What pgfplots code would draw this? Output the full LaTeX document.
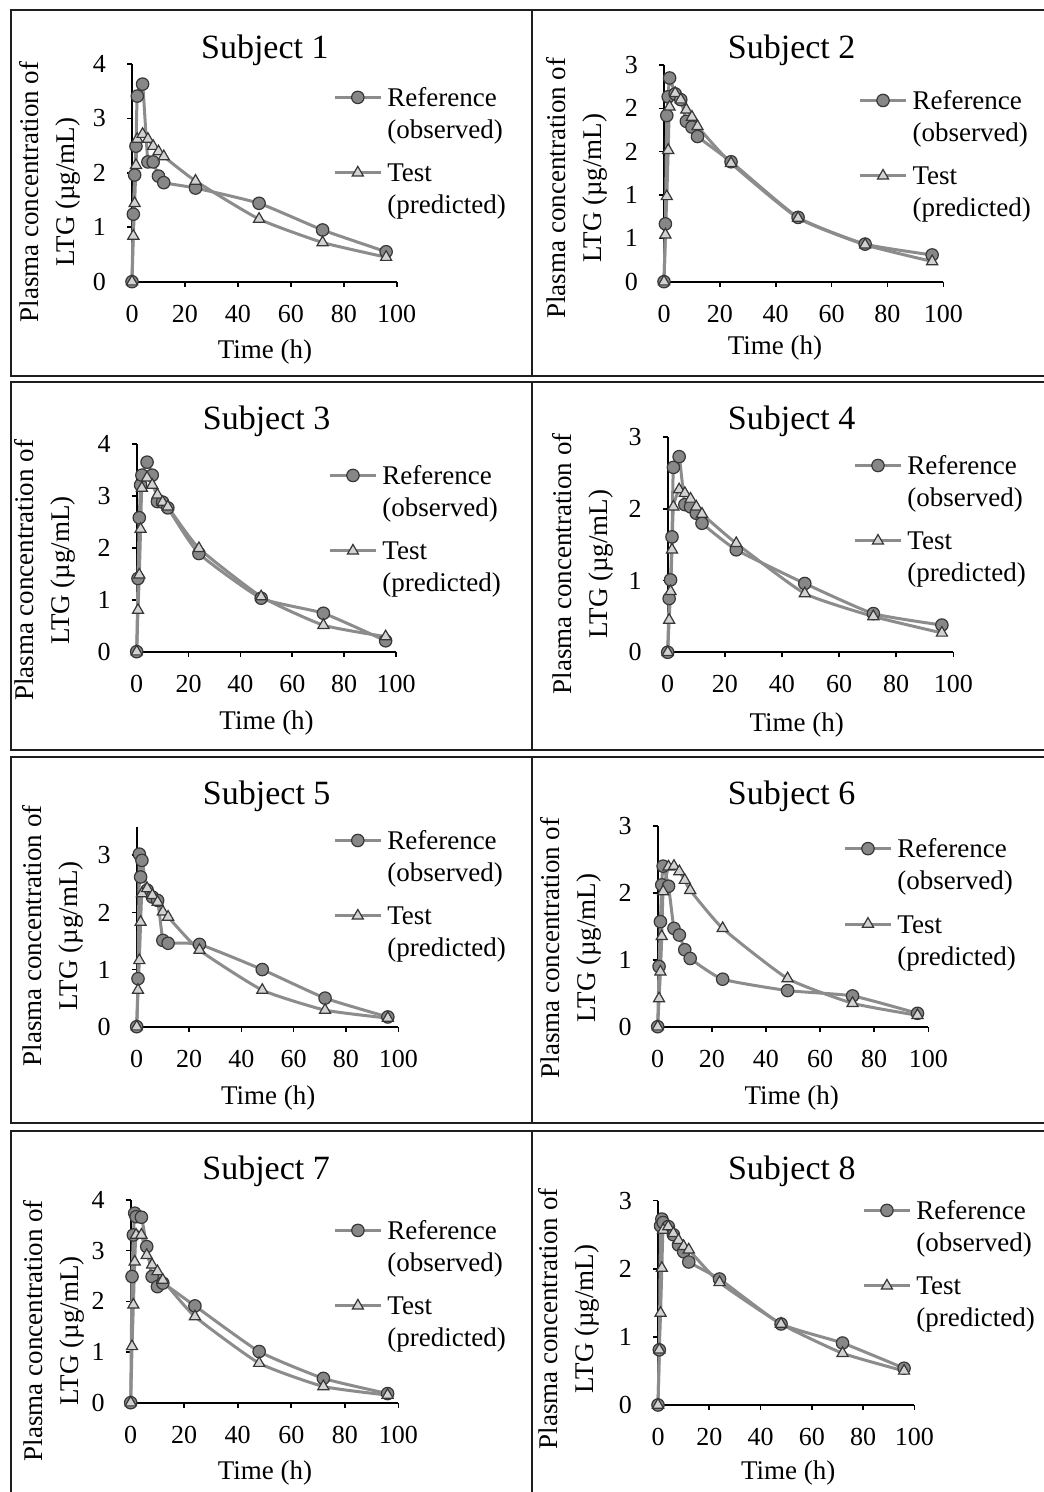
\documentclass[border=0pt]{standalone}
\usepackage{fontspec}
\setmainfont{Liberation Serif}
\usepackage{pgfplots}
\pgfplotsset{compat=1.18}

\definecolor{lineg}{RGB}{140,140,140}
\definecolor{markg}{RGB}{135,135,135}
\definecolor{markd}{RGB}{55,55,55}
\definecolor{trif}{RGB}{210,210,210}
\definecolor{frame}{RGB}{30,30,30}

\pgfplotsset{
  every axis title shift=0pt,
  pk/.style={
    scale only axis, anchor=south west,
    xmin=0, xmax=100, ymin=0,
    axis x line=bottom, axis y line=left,
    axis line style={-, line width=1pt, black},
    tick style={black, line width=0.8pt},
    tick align=outside, major tick length=2.5pt,
    xtick={0,20,...,100},
    clip=false,
    tick label style={font=\fontsize{13}{15}\selectfont},
    /pgf/number format/assume math mode=true,
    xticklabel style={yshift=-5.5pt},
    yticklabel style={xshift=-7pt},
    xlabel={Time (h)},
    ylabel={Plasma concentration of\\LTG (µg/mL)},
    xlabel style={font=\fontsize{13.5}{16}\selectfont, anchor=center},
    ylabel style={font=\fontsize{13.5}{18}\selectfont, align=center, anchor=center},
    title style={font=\fontsize{17}{20}\selectfont, anchor=center},
    legend style={draw=none, fill=none, inner sep=0pt, anchor=north west,
      font=\fontsize{13.5}{16}\selectfont, row sep=25pt, column sep=2.5pt,
      nodes={inner sep=0pt}, cells={anchor=base west}},
    legend image code/.code={\draw[mark repeat=2,mark phase=2,#1] plot coordinates {(0pt,4.5pt)(11.5pt,4.5pt)(23pt,4.5pt)};},
  },
  ref/.style={line width=1.5pt, color=lineg, smooth, tension=0.3, mark=*, mark size=3.1pt,
    mark options={fill=markg, draw=markd, line width=0.6pt}},
  tst/.style={line width=1.5pt, color=lineg, smooth, tension=0.3, mark=triangle*, mark size=3.2pt,
    mark options={fill=trif, draw=markd, line width=0.6pt}},
}
\newcommand{\refentry}{\addlegendentry{\begin{tabular}[t]{@{}l@{}}Reference\\(observed)\end{tabular}}}
\newcommand{\tstentry}{\addlegendentry{\begin{tabular}[t]{@{}l@{}}Test\\(predicted)\end{tabular}}}

\begin{document}
\begin{tikzpicture}
\useasboundingbox (0pt,0pt) rectangle (521.5pt,746pt);
% panel frames
\begin{scope}[line width=1pt, draw=frame]
\draw (5.25pt,741pt) rectangle (530pt,558pt);
\draw (265.75pt,741pt) -- (265.75pt,558pt);
\draw (5.25pt,555pt) rectangle (530pt,371pt);
\draw (265.75pt,555pt) -- (265.75pt,371pt);
\draw (5.25pt,367.5pt) rectangle (530pt,184.5pt);
\draw (265.75pt,367.5pt) -- (265.75pt,184.5pt);
\draw (5.25pt,180.5pt) rectangle (530pt,-4pt);
\draw (265.75pt,180.5pt) -- (265.75pt,-4pt);
\end{scope}

% Subject 1
\begin{axis}[pk, at={(66pt,605.15pt)}, width=132.35pt, height=108.85pt,
  ymax=4, ytick={0,1,2,3,4},
  title={Subject 1}, title style={at={(axis description cs:0.502,1.064)}},
  xlabel style={at={(axis description cs:0.502,-0.322)}},
  ylabel style={at={(axis description cs:-0.310,0.412)}},
  legend style={at={(axis description cs:0.759,0.910)}}]
\addplot[ref] coordinates {(0,0)(0.5,1.24)(1,1.96)(1.5,2.49)(2,3.41)(4,3.63)(6,2.2)(8,2.2)(10,1.94)(12,1.82)(24,1.72)(48,1.44)(72,0.95)(96,0.55)};
\refentry
\addplot[tst] coordinates {(0,0)(0.5,0.84)(1,1.44)(1.5,2.14)(2,2.62)(4,2.71)(6,2.62)(8,2.49)(10,2.39)(12,2.30)(24,1.85)(48,1.15)(72,0.72)(96,0.45)};
\tstentry
\end{axis}

% Subject 2
\begin{axis}[pk, at={(332pt,605.15pt)}, width=139.65pt, height=108.35pt,
  ymax=3, ytick={0,0.6,1.2,1.8,2.4,3}, yticklabels={0,1,1,2,2,3},
  title={Subject 2}, title style={at={(axis description cs:0.457,1.069)}},
  xlabel style={at={(axis description cs:0.397,-0.307)}},
  ylabel style={at={(axis description cs:-0.313,0.432)}},
  legend style={at={(axis description cs:0.695,0.900)}}]
\addplot[ref] coordinates {(0,0)(0.5,0.80)(1,2.30)(1.5,2.56)(2,2.82)(4,2.60)(6,2.52)(8,2.22)(10,2.14)(12,2.01)(24,1.66)(48,0.89)(72,0.52)(96,0.37)};
\refentry
\addplot[tst] coordinates {(0,0)(0.5,0.65)(1,1.18)(1.5,1.82)(2,2.42)(4,2.61)(6,2.52)(8,2.38)(10,2.28)(12,2.15)(24,1.64)(48,0.88)(72,0.51)(96,0.28)};
\tstentry
\end{axis}

% Subject 3
\begin{axis}[pk, at={(68.35pt,420.15pt)}, width=129.65pt, height=103.85pt,
  ymax=4, ytick={0,1,2,3,4},
  title={Subject 3}, title style={at={(axis description cs:0.501,1.107)}},
  xlabel style={at={(axis description cs:0.501,-0.345)}},
  ylabel style={at={(axis description cs:-0.354,0.391)}},
  legend style={at={(axis description cs:0.738,0.915)}}]
\addplot[ref] coordinates {(0,0)(0.5,1.41)(1,2.58)(1.5,3.21)(2,3.40)(4,3.65)(6,3.40)(8,2.89)(10,2.88)(12,2.77)(24,1.89)(48,1.03)(72,0.74)(96,0.21)};
\refentry
\addplot[tst] coordinates {(0,0)(0.5,0.80)(1,1.48)(1.5,2.36)(2,3.15)(4,3.35)(6,3.21)(8,3.02)(10,2.88)(12,2.79)(24,1.99)(48,1.06)(72,0.51)(96,0.29)};
\tstentry
\end{axis}

% Subject 4
\begin{axis}[pk, at={(333.85pt,419.85pt)}, width=142.8pt, height=107.5pt,
  ymax=3, ytick={0,1,2,3},
  title={Subject 4}, title style={at={(axis description cs:0.434,1.073)}},
  xlabel style={at={(axis description cs:0.452,-0.338)}},
  ylabel style={at={(axis description cs:-0.296,0.411)}},
  legend style={at={(axis description cs:0.649,0.933)}}]
\addplot[ref] coordinates {(0,0)(0.5,0.75)(1,1.01)(1.5,1.61)(2,2.58)(4,2.73)(6,2.06)(8,2.03)(10,1.94)(12,1.80)(24,1.43)(48,0.96)(72,0.54)(96,0.38)};
\refentry
\addplot[tst] coordinates {(0,0)(0.5,0.45)(1,0.85)(1.5,1.43)(2,2.03)(4,2.27)(6,2.22)(8,2.14)(10,2.03)(12,1.93)(24,1.52)(48,0.82)(72,0.50)(96,0.27)};
\tstentry
\end{axis}

% Subject 5
\begin{axis}[pk, at={(68.35pt,232.65pt)}, width=130.8pt, height=100pt,
  ymax=3.5, ytick={0,1,2,3},
  title={Subject 5}, title style={at={(axis description cs:0.497,1.150)}},
  xlabel style={at={(axis description cs:0.503,-0.358)}},
  ylabel style={at={(axis description cs:-0.319,0.4545)}},
  legend style={at={(axis description cs:0.750,1.000)}}]
\addplot[ref] coordinates {(0,0)(0.5,0.84)(1,3.02)(1.5,2.62)(2,2.91)(4,2.39)(6,2.27)(8,2.21)(10,1.51)(12,1.46)(24,1.44)(48,1.00)(72,0.50)(96,0.17)};
\refentry
\addplot[tst] coordinates {(0,0)(0.5,0.64)(1,1.16)(1.5,1.83)(2,2.33)(4,2.42)(6,2.30)(8,2.18)(10,2.01)(12,1.92)(24,1.34)(48,0.64)(72,0.29)(96,0.15)};
\tstentry
\end{axis}

% Subject 6
\begin{axis}[pk, at={(328.85pt,232.65pt)}, width=135.3pt, height=100.35pt,
  ymax=3, ytick={0,1,2,3},
  title={Subject 6}, title style={at={(axis description cs:0.495,1.146)}},
  xlabel style={at={(axis description cs:0.495,-0.357)}},
  ylabel style={at={(axis description cs:-0.321,0.392)}},
  legend style={at={(axis description cs:0.685,0.956)}}]
\addplot[ref] coordinates {(0,0)(0.5,0.90)(1,1.57)(1.5,2.12)(2,2.40)(4,2.10)(6,1.47)(8,1.37)(10,1.15)(12,1.02)(24,0.71)(48,0.54)(72,0.46)(96,0.20)};
\refentry
\addplot[tst] coordinates {(0,0)(0.5,0.42)(1,0.82)(1.5,1.35)(2,2.02)(4,2.39)(6,2.40)(8,2.32)(10,2.19)(12,2.04)(24,1.47)(48,0.72)(72,0.35)(96,0.17)};
\tstentry
\end{axis}

% Subject 7
\begin{axis}[pk, at={(65.35pt,44.65pt)}, width=133.8pt, height=101.35pt,
  ymax=4, ytick={0,1,2,3,4},
  title={Subject 7}, title style={at={(axis description cs:0.506,1.140)}},
  xlabel style={at={(axis description cs:0.502,-0.348)}},
  ylabel style={at={(axis description cs:-0.286,0.355)}},
  legend style={at={(axis description cs:0.756,0.918)}}]
\addplot[ref] coordinates {(0,0)(0.5,2.49)(1,3.31)(1.5,3.74)(2,3.67)(4,3.66)(6,3.08)(8,2.49)(10,2.29)(12,2.36)(24,1.91)(48,1.01)(72,0.48)(96,0.18)};
\refentry
\addplot[tst] coordinates {(0,0)(0.5,1.11)(1,1.93)(1.5,2.78)(2,3.31)(4,3.31)(6,2.91)(8,2.72)(10,2.59)(12,2.42)(24,1.70)(48,0.78)(72,0.32)(96,0.15)};
\tstentry
\end{axis}

% Subject 8
\begin{axis}[pk, at={(329pt,43.5pt)}, width=128.15pt, height=102.15pt,
  ymax=3, ytick={0,1,2,3},
  title={Subject 8}, title style={at={(axis description cs:0.522,1.142)}},
  xlabel style={at={(axis description cs:0.508,-0.334)}},
  ylabel style={at={(axis description cs:-0.346,0.421)}},
  legend style={at={(axis description cs:0.796,1.020)}}]
\addplot[ref] coordinates {(0,0)(0.5,0.81)(1,2.63)(1.5,2.73)(2,2.68)(4,2.62)(6,2.50)(8,2.35)(10,2.25)(12,2.10)(24,1.85)(48,1.19)(72,0.91)(96,0.54)};
\refentry
\addplot[tst] coordinates {(0,0)(0.5,0.81)(1,1.35)(1.5,2.01)(2,2.57)(4,2.62)(6,2.52)(8,2.42)(10,2.33)(12,2.28)(24,1.80)(48,1.19)(72,0.76)(96,0.50)};
\tstentry
\end{axis}
\end{tikzpicture}
\end{document}
